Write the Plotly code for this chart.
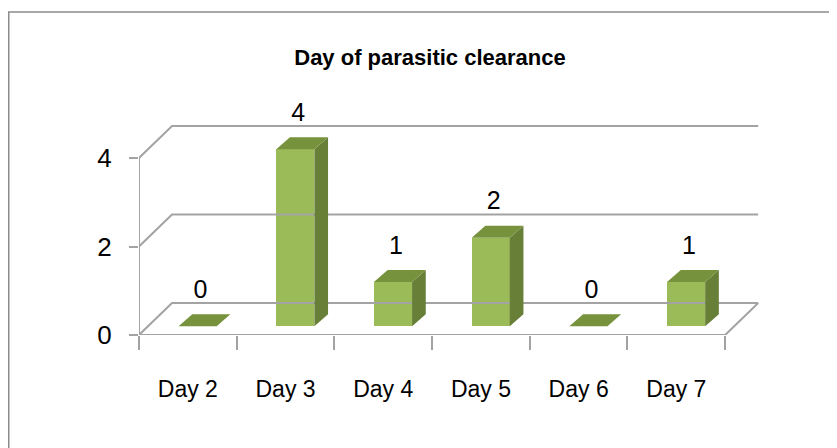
import plotly.graph_objects as go

# ---- data ----
categories = ["Day 2", "Day 3", "Day 4", "Day 5", "Day 6", "Day 7"]
values = [0, 4, 1, 2, 0, 1]
y_ticks = [0, 2, 4]
title_text = "Day of parasitic clearance"

# ---- style / pseudo-3D geometry (in axis units) ----
FONT = "Liberation Sans, Arial, sans-serif"
FRONT = "#9BBB59"
TOP = "#76923C"
SIDE = "#677F37"
GRID = "#A3A3A3"
BAR_W = 0.39
DXB, DYB = 0.10, 0.20     # bar offset into depth
DXS, DYS = 0.14, 0.27     # bar depth
DXW, DYW = 0.338, 0.723   # back wall offset

W, H = 837, 448
OFF = 8  # page body margin
L, R, T, B = 139 - OFF, 57 + OFF, 90 - OFF, 113 + OFF
XR = [-0.5, 6.061]
YR = [0, 5.537]

n = len(categories)
xs = list(range(n))

fig = go.Figure()

# back wall gridlines + left diagonals
gx, gy = [], []
for v in y_ticks:
    gx += [-0.5, -0.5 + DXW, n - 0.5 + DXW, None]
    gy += [v, v + DYW, v + DYW, None]
# floor front, right diagonal, front value axis
gx += [-0.5, n - 0.5, n - 0.5 + DXW, None, -0.5, -0.5]
gy += [0, 0, DYW, None, 0, max(y_ticks)]
fig.add_trace(go.Scatter(x=gx, y=gy, mode="lines",
                         line=dict(color=GRID, width=2),
                         hoverinfo="skip", showlegend=False))

# front faces
fig.add_trace(go.Bar(x=[i + DXB for i in xs], y=values, base=DYB, width=BAR_W,
                     marker=dict(color=FRONT, line=dict(width=0)),
                     showlegend=False, hoverinfo="skip"))

# side faces
sx, sy = [], []
for i, v in zip(xs, values):
    x1 = i + DXB + BAR_W / 2
    if v > 0:
        sx += [x1, x1 + DXS, x1 + DXS, x1, x1, None]
        sy += [DYB, DYB + DYS, v + DYB + DYS, v + DYB, DYB, None]
fig.add_trace(go.Scatter(x=sx, y=sy, mode="lines", fill="toself",
                         fillcolor=SIDE, line=dict(width=0, color=SIDE),
                         hoverinfo="skip", showlegend=False))

# top faces
tx, ty = [], []
for i, v in zip(xs, values):
    x0 = i + DXB - BAR_W / 2
    x1 = i + DXB + BAR_W / 2
    tx += [x0, x1, x1 + DXS, x0 + DXS, x0, None]
    ty += [v + DYB, v + DYB, v + DYB + DYS, v + DYB + DYS, v + DYB, None]
fig.add_trace(go.Scatter(x=tx, y=ty, mode="lines", fill="toself",
                         fillcolor=TOP, line=dict(width=0, color=TOP),
                         hoverinfo="skip", showlegend=False))

# data labels
fig.add_trace(go.Scatter(x=[i + DXB + 0.03 for i in xs],
                         y=[v + DYB + DYS + 0.23 for v in values],
                         mode="text", text=[str(v) for v in values],
                         textposition="top center",
                         textfont=dict(family=FONT, size=25, color="#000000"),
                         hoverinfo="skip", showlegend=False, cliponaxis=False))

def px_to_paper_x(px):
    return (px - OFF - L) / (W - L - R)

def py_to_paper_y(py):
    return (H - B - (py - OFF)) / (H - B - T)

fig.add_shape(type="rect", xref="paper", yref="paper",
              x0=px_to_paper_x(8.75), x1=px_to_paper_x(860),
              y0=py_to_paper_y(470), y1=py_to_paper_y(12),
              line=dict(color="#8C8C8C", width=1.5), layer="below")

fig.update_layout(
    width=W, height=H,
    margin=dict(l=L, r=R, t=T, b=B, autoexpand=False),
    paper_bgcolor="white", plot_bgcolor="white",
    title=dict(text="<b>" + title_text + "</b>", xref="container", yref="container",
               x=(430 - OFF) / W, y=1 - (57 - OFF) / H, xanchor="center", yanchor="middle",
               font=dict(family=FONT, size=22, color="#000000")),
    xaxis=dict(range=XR, tickmode="array", tickvals=xs, ticktext=categories,
               ticks="", showgrid=False, zeroline=False, showline=False,
               automargin=False,
               tickfont=dict(family=FONT, size=23, color="#000000"),
               ticklabelstandoff=38,
               minor=dict(tickmode="array", tickvals=[i - 0.5 for i in range(n + 1)],
                          ticks="outside", ticklen=14, tickwidth=2, tickcolor=GRID,
                          showgrid=False)),
    yaxis=dict(range=YR, tickmode="array", tickvals=y_ticks,
               ticks="outside", ticklen=9, tickwidth=2, tickcolor=GRID,
               showgrid=False, zeroline=False, showline=False,
               automargin=False,
               tickfont=dict(family=FONT, size=26, color="#000000"),
               ticklabelstandoff=12),
    bargap=0,
)

fig.write_html("out.html")
